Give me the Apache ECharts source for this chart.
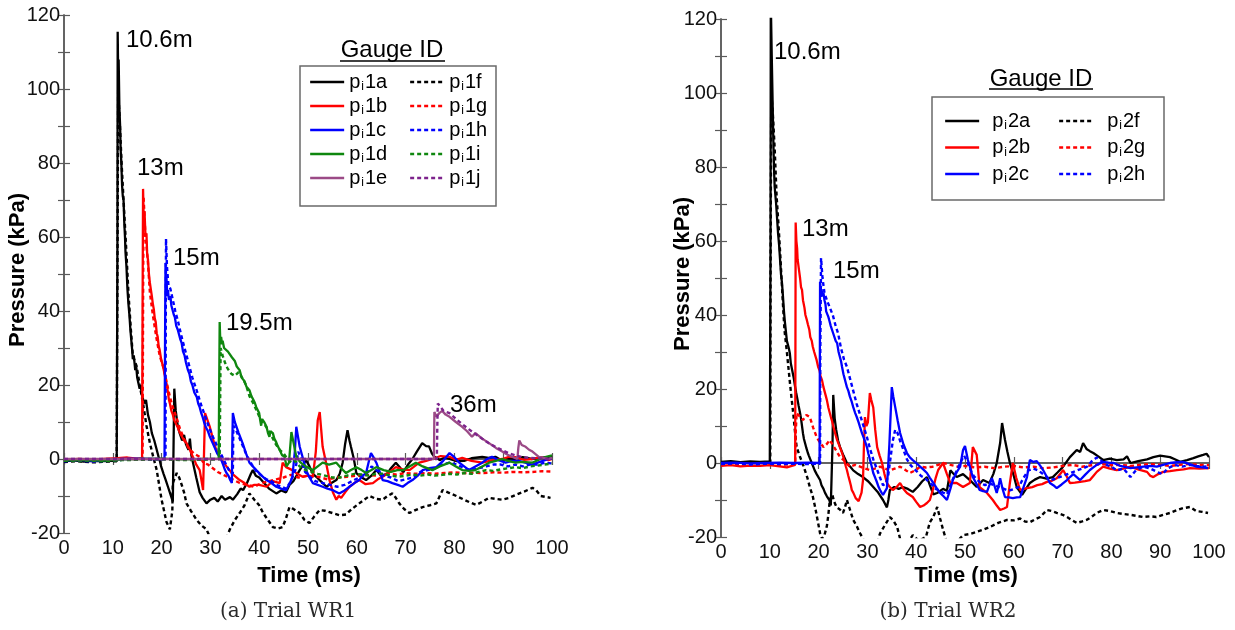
<!DOCTYPE html>
<html>
<head>
<meta charset="utf-8">
<script src="https://cdn.jsdelivr.net/npm/echarts@6/dist/echarts.min.js"></script>
<style>
  html, body { margin: 0; padding: 0; background: #fff; }
  #chart { width: 1235px; height: 630px; }
</style>
</head>
<body>
<div id="chart"></div>
<script>
// Axis ticks (ms and kPa)
const timeTicks = { min: 0, max: 100, step: 10 };
const pressTicks = { min: -20, max: 120, step: 10, labelStep: 20 };

// Trial WR1 gauges: [time ms, pressure kPa]
const p_i1a = [[0,-0.6],[2,-0.4],[4,-0.7],[6,-0.5],[8,-0.6],[10,-0.5],[10.8,-0.4],[10.95,60],[11.0,115.5],[11.1,104],[11.2,108],[11.35,95],[11.5,90],[11.6,84],[11.75,80],[11.9,74],[12.05,71],[12.2,70],[12.35,64],[12.5,60],[12.6,56],[12.8,52],[13.0,46],[13.2,42],[13.4,39],[13.6,35],[13.8,32],[14.0,29],[14.1,27],[14.3,28],[14.6,24],[14.8,25],[15.0,22],[15.2,21.5],[15.5,19],[15.7,20],[16.0,17],[16.2,17.5],[16.5,15],[16.8,16],[17.0,14],[17.2,12],[17.4,11],[17.6,10],[17.8,9.5],[18.0,7],[18.2,7.5],[18.5,5],[18.7,4.5],[19.0,2.5],[19.2,1.5],[19.4,0.5],[19.6,-0.3],[19.9,-2],[20.1,-2.5],[20.4,-4],[20.6,-4.5],[20.8,-5.5],[21.0,-6],[21.3,-7.5],[21.5,-8],[21.8,-9.5],[22.0,-10],[22.3,-11.5],[22.5,-12],[22.6,19],[22.9,13],[23.3,9],[23.7,7],[24.2,5],[24.6,6.5],[25.0,4],[25.5,2.5],[25.8,5.5],[26.1,1],[26.6,-2],[27.1,-5],[27.8,-9],[28.4,-10.5],[29.2,-12],[30.0,-11],[30.8,-10.5],[31.5,-11.5],[32.3,-10],[33.0,-11],[34.0,-10.3],[34.6,-11],[35.5,-9.5],[36.2,-8],[36.7,-8.4],[37.5,-6.5],[38.3,-4],[38.7,-3],[39.3,-4.5],[40.0,-5],[41,-6.5],[42,-8],[43.5,-9.3],[44.5,-8.5],[45.5,-9],[46.2,-7],[47,-6],[48.3,-3],[49.6,-0.3],[50.3,-2],[51,-4],[51.7,-4.8],[52.6,-6],[53.8,-7.5],[54.8,-6.5],[55.8,-5.7],[56.5,-4],[57.1,-1],[57.6,4],[58.1,7.8],[58.5,5],[58.8,3.3],[59.4,0],[59.9,-3.8],[61,-5],[61.9,-5.7],[63,-4.5],[64,-3],[65,-4.5],[66.2,-4],[67,-2.5],[68,-1],[68.8,-2.2],[69.5,-3.6],[70.5,-1.5],[71.4,0],[72.3,2],[73.4,4.3],[74.2,3.5],[74.8,3.4],[75.4,1.5],[75.9,0.6],[77,-0.3],[78,0.4],[79,0],[80.5,-0.6],[82,-0.5],[83.5,0.2],[85.7,0.6],[87,0.3],[88.4,0.6],[89.8,-0.5],[91,0.2],[92.5,0],[94,0.5],[95.9,0],[97.5,0.3],[99.3,0.6],[100,0.8]];
const p_i1f = [[0,-0.8],[3,-0.6],[6,-0.9],[9,-0.7],[10.8,-0.6],[10.95,50],[11.1,100],[11.4,92],[11.8,80],[12.2,70],[12.7,58],[13.2,45],[13.7,35],[14.1,28],[14.9,25],[15.5,20],[16.2,15],[16.9,9],[17.6,4.3],[18.3,0.5],[19,-3],[19.5,-7],[20,-11],[20.5,-14],[21,-17],[21.7,-19],[22.0,-16],[22.2,-14],[22.3,-6.5],[23.1,-3.8],[23.6,-5],[24,-6.5],[24.6,-9],[25.1,-12],[26,-14],[27.2,-16.5],[28.2,-18],[29.2,-19],[30,-21.5],[31.5,-23],[33,-22],[34,-19],[35,-16.5],[36,-14.6],[37,-12.5],[38,-9.3],[39,-11],[40,-12.5],[40.8,-14.6],[41.8,-16.5],[42.8,-18.4],[43.8,-18.8],[44.8,-18.4],[45.5,-16],[46.2,-13],[47,-13.5],[48.3,-14.6],[49.3,-16.5],[50.3,-17.3],[51.3,-15.5],[52.4,-13.8],[53.5,-14],[55,-14.6],[56.5,-15.2],[57.8,-15],[59,-13.5],[60.5,-12],[61.5,-11],[62.6,-10],[64,-10.8],[65.3,-11],[66.3,-10],[67.3,-9.3],[68,-10.5],[68.7,-12],[69.7,-13.5],[70.8,-14.6],[72,-13.8],[73.5,-13],[75,-12.5],[76.3,-12],[77,-10],[77.6,-8.4],[79,-9.2],[80.4,-10],[82,-11],[83.3,-11.8],[84.5,-12.4],[85.8,-11.5],[87.1,-10.5],[88.5,-10.8],[89.8,-11],[91.2,-10.5],[92.6,-9.7],[94.3,-8.8],[96,-7.8],[96.8,-8.5],[97.7,-10],[99.7,-10.5]];
const p_i1b = [[0,-0.3],[3,0],[6,-0.2],[9,0.1],[11,0.2],[13,0.4],[15,0.1],[16.0,0.2],[16.1,40],[16.2,73],[16.35,64],[16.5,67],[16.7,60],[16.9,61],[17.05,55],[17.2,54],[17.4,50],[17.6,47.6],[17.8,48],[18.0,44],[18.2,42],[18.4,40.5],[18.6,38],[18.8,37],[19.0,34],[19.2,33],[19.4,30.5],[19.6,29.5],[19.9,27],[20.1,27.5],[20.3,25],[20.6,23],[20.8,21.5],[21.0,20.5],[21.3,18],[21.5,16],[21.7,15],[22.0,13],[22.3,12],[22.6,10.5],[22.9,10],[23.3,8.6],[23.6,7.5],[24.0,7],[24.2,6],[24.6,5],[25.1,4.3],[25.4,3.5],[25.8,2.5],[26.1,1.5],[26.4,0.6],[26.8,-0.5],[27.1,-1.5],[27.5,-2],[27.8,-3],[28.0,-4.5],[28.2,-6],[28.5,-8.4],[28.7,2],[28.9,12.4],[29.4,10.5],[29.9,8.6],[30.5,5.5],[31.2,2.4],[32.2,0],[33.3,-2],[34.5,-4],[36,-5.7],[37,-6.5],[38,-7.5],[39,-7],[40,-7],[41.5,-7.5],[42.8,-6],[44.2,-6.5],[44.8,-1],[45.5,-2.2],[46.8,-3],[47.8,-4],[48.9,-4.8],[50,-4.5],[51,-4.8],[51.6,2],[52,10.5],[52.4,12.7],[52.7,8],[53,3.3],[53.7,-1],[54.4,-5.7],[55.1,-9],[55.8,-11],[56.3,-10],[56.8,-10.5],[57.6,-9],[58.5,-7.5],[59.5,-6.5],[60.5,-5.7],[61.8,-6.8],[63.3,-6.5],[64.3,-5.5],[65.3,-4.8],[66.7,-3.5],[68,-2.2],[69.4,-2.8],[70.8,-3],[71.8,-2],[72.8,-1],[74.2,-0.5],[75.5,0],[77.2,0.8],[79,0.6],[80.3,-0.2],[81.6,0.3],[83.5,-0.5],[85.7,-1],[87.7,-0.4],[89.8,0],[91.2,0.6],[92.5,0.5],[94.2,-0.2],[95.9,0],[97.6,0.5],[99.3,-0.3],[100,0]];
const p_i1g = [[0,-0.5],[3,-0.3],[6,-0.6],[9,-0.4],[12,0],[15,-0.2],[16.1,0],[16.2,40],[16.3,71],[16.7,60],[17.1,55],[17.6,45],[18.2,39],[18.9,33],[19.6,28],[20.3,25],[21,21],[21.7,16.8],[22.3,14],[23,11.4],[23.8,8],[24.6,5.5],[25.5,3],[26.6,1.5],[27.8,0.6],[28.6,-1],[29.5,-1.5],[30.5,-2.5],[31.5,-3.5],[33,-4.5],[34.5,-5.5],[36,-6.5],[37.5,-7],[39,-7.5],[40.5,-6.5],[42,-6],[43.5,-5.5],[45,-5],[46.5,-4.3],[48,-5],[50,-4.5],[52,-4.8],[54,-5.5],[56,-5],[58,-4.8],[60,-4.5],[62,-4.3],[64,-4.5],[66,-4],[68,-4.2],[70,-3.8],[72,-4],[74,-3.8],[76,-4],[78,-3.8],[80,-3.6],[82,-3.8],[84,-3.7],[86,-3.8],[88,-3.6],[90,-3.7],[92,-3.5],[94,-3.6],[96,-3.5],[98,-3.3],[100,-3.4]];
const p_i1c = [[0,-0.4],[3,-0.2],[6,-0.5],[9,-0.3],[12,0],[15,0.1],[18,0],[20.6,0],[20.7,30],[20.8,53],[20.9,47],[21.0,49],[21.15,44],[21.3,45.7],[21.5,43],[21.8,44],[22.0,41.5],[22.3,41],[22.5,39],[22.7,38.4],[23.0,36],[23.3,35],[23.6,33.5],[23.8,32.5],[24.1,31.4],[24.4,29],[24.7,28],[25.0,26],[25.4,24],[25.7,23],[26.0,21],[26.3,20],[26.7,18],[27.0,17.5],[27.2,16.8],[27.5,15],[27.8,14],[28.1,12.5],[28.4,11.4],[28.7,10],[29.1,8.5],[29.5,7.5],[29.9,6],[30.4,4.5],[30.9,3],[31.4,1.5],[31.9,0.6],[32.3,-0.5],[32.6,-1.5],[33.0,-3],[33.3,-3.8],[33.7,-4.5],[34,-5.5],[34.4,-6.5],[34.5,5],[34.6,12.4],[35,10],[35.8,7],[36.6,4.3],[37.3,1.5],[38,-1],[39.4,-3],[40.5,-4.5],[41.5,-5.7],[42.5,-6.5],[43.5,-7.5],[44.5,-8],[45.5,-8.4],[46.3,-6.5],[46.8,-4.8],[47.3,2],[47.6,8.7],[48.3,3.3],[49,0],[49.6,-3],[50.3,-5],[51,-6.5],[52,-7],[53,-7.5],[54,-8],[55.2,-8.5],[56.4,-9.3],[57.5,-8.5],[58.5,-7.5],[59.5,-6.5],[60.5,-5.7],[61.2,-4.5],[61.9,-3.8],[62.4,-1],[62.9,1.6],[63.4,0.5],[64,-1],[64.7,-3.5],[65.3,-5.7],[66.3,-6],[67.3,-6.5],[68.4,-7],[69.4,-7.5],[70.4,-6.5],[71.4,-5.7],[72.5,-4.5],[73.5,-3],[74.8,-2.5],[76.3,-2.2],[77.7,-0.5],[79,1.6],[80,0.5],[81,-1],[82,-2],[83,-3],[84.3,-2],[85.7,-1],[86.7,0],[87.7,0.6],[89,-0.3],[90.5,-1],[91.8,-0.5],[93.2,-0.5],[94.5,-1],[95.9,-1.5],[97.5,-0.8],[99.3,0],[100,0.2]];
const p_i1h = [[0,-0.6],[3,-0.4],[6,-0.7],[9,-0.5],[12,-0.2],[15,-0.1],[18,-0.2],[20.8,0],[20.85,35],[20.9,59.5],[21.1,52],[21.4,47],[21.8,46],[22.3,43],[22.8,40],[23.4,37],[24.1,33],[24.8,29.5],[25.5,26],[26.3,22],[27.2,18.5],[28,15],[28.8,12],[29.6,9],[30.5,6],[31.4,3.5],[32.3,1],[33.2,-1.5],[34,-3.5],[34.6,-4],[34.7,9],[35.2,8],[36,5.5],[36.8,3],[37.6,0.5],[38.5,-1.5],[39.5,-3.5],[40.5,-4.5],[41.5,-5.5],[42.5,-6],[43.5,-7],[44.5,-7.5],[45.5,-8],[46.5,-6],[47.4,-3],[48,2],[48.6,0],[49.4,-3.5],[50.5,-5],[51.5,-6],[53,-6.5],[54.5,-7],[56,-7.5],[57.5,-7],[59,-6],[60.5,-5],[62,-4],[63,-2],[64,-3],[65.5,-4.5],[67,-5],[68.5,-6],[70,-5.5],[71.5,-5],[73,-3.5],[74.5,-3],[76,-2.5],[77.5,-1.5],[79,-1],[80.5,-1.5],[82,-2.5],[83.5,-3],[85,-2.5],[86.5,-2],[88,-1.5],[89.5,-1.5],[91,-2],[92.5,-1.5],[94,-2],[95.5,-1.5],[97,-1.5],[98.5,-1],[100,-1.2]];
const p_i1d = [[0,-0.3],[4,-0.2],[8,-0.4],[12,-0.1],[16,0],[20,0.1],[24,-0.1],[28,0],[31.7,0.1],[31.8,20],[31.9,37],[32.05,31],[32.2,33],[32.4,31],[32.5,32],[32.8,30],[33.2,30.5],[33.6,29],[34,29.5],[34.4,27.5],[34.7,27],[35,26.5],[35.4,25],[35.7,25.5],[36,24],[36.4,22],[36.7,22.5],[37,21],[37.4,19.5],[37.7,19.8],[38,18.6],[38.4,17],[38.8,16],[39.1,15.2],[39.4,14],[39.7,13.5],[40,12.4],[40.2,10.5],[40.4,9],[40.6,10.8],[40.8,10.5],[41.1,9.8],[41.5,8.7],[41.8,7],[42.1,6],[42.3,7.5],[42.5,8],[42.8,7],[43.1,5.5],[43.5,4.5],[43.8,3.5],[44.2,2.4],[44.7,1],[45.2,0.6],[45.6,-2],[46.1,-1],[46.6,7.3],[47.1,4],[47.6,0.6],[48.5,-1],[49.5,-2],[51,-3],[52,-2],[53,-1],[54.3,-1.5],[55.8,-1],[56.8,-2.5],[57.8,-3.8],[58.8,-3],[59.9,-2.2],[61,-3],[61.9,-3.8],[63,-3],[64,-2.2],[65.5,-3],[67,-3.5],[68.3,-3],[69.5,-3],[70.8,-2],[72.1,-1],[73.5,-2],[75.5,-3],[77,-2],[79,-1],[80.3,-2],[81.6,-3],[83,-3.2],[84.3,-3],[85.7,-2],[87.1,-1],[88.5,-0.5],[89.8,0],[91,-0.5],[92.5,-1],[94,-0.8],[95.9,-1],[97.3,-0.2],[98.8,0.6],[100,1]];
const p_i1i = [[0,-0.5],[4,-0.4],[8,-0.6],[12,-0.3],[16,-0.2],[20,-0.1],[24,-0.3],[28,-0.2],[31.9,-0.1],[32.0,15],[32.1,30],[32.5,28],[33,26],[33.5,24.5],[34.3,23],[35,22.5],[35.8,23.5],[36.5,22],[37.3,20],[38,17],[38.8,15],[39.5,13],[40.2,11],[41,9.5],[41.8,8],[42.6,6],[43.4,4],[44.2,2.5],[45,1.5],[45.8,0],[46.6,-1],[47.4,-0.5],[48.3,-2],[49.5,-3],[50.8,-3.5],[52,-4],[53.5,-4.5],[55,-5],[56.5,-5],[58,-4.5],[59.5,-4],[61,-4.2],[62.5,-4.5],[64,-4],[65.5,-4],[67,-4.5],[68.5,-4.8],[70,-4.5],[71.5,-4.2],[73,-4.5],[74.5,-4.2],[76,-4.5],[77.5,-4.3],[79,-4],[80.5,-4.2],[82,-3.8],[83.5,-4],[85,-3.5],[86.5,-3],[88,-3.2],[89.5,-2.8],[91,-2.5],[92.5,-2.2],[94,-2.5],[95.5,-2],[97,-1.8],[98.5,-1.5],[100,-1.2]];
const p_i1e = [[0,0],[20,0],[40,0],[60,0],[75.8,0],[75.9,12.7],[76.3,11.5],[76.9,12.4],[77.5,13],[78.2,12],[79,11.4],[80.3,10],[81.6,8.7],[82.6,7.5],[83.6,6],[84.3,7],[85.7,5.5],[87.1,4.3],[88.5,3],[89.8,2],[90.8,1.2],[91.8,0.6],[92.9,0],[93.1,3],[93.3,5],[93.8,3.8],[94.6,3.3],[95.3,2.5],[96,2],[97.3,0.6],[98.3,0.3],[99.3,0],[100,0.3]];
const p_i1j = [[0,0],[20,0],[40,0],[60,0],[76.4,0],[76.5,9],[76.6,15],[77.2,14],[77.8,13],[79,12.4],[80.6,10.5],[82.3,8.7],[84,7],[85.7,5.5],[87,4.3],[88.4,3.3],[89.8,2.4],[91.1,1.6],[92.5,1],[93.9,0.5],[95.5,0.3],[97,0.2],[99.3,0],[100,0]];

// Trial WR2 gauges
const p_i2a = [[0,0.3],[2,0.5],[4,0.2],[6,0.4],[8,0.3],[10,0.4],[10.1,0.3],[10.15,60],[10.2,125],[10.4,110],[10.7,89],[10.85,80],[11,74.6],[11.15,75],[11.3,70],[11.5,66],[11.7,62],[11.9,59],[12.1,55],[12.3,51],[12.5,48.6],[12.7,45],[12.9,41],[13.1,38],[13.3,35.5],[13.5,33],[13.7,32],[13.9,31],[14.1,29.7],[14.3,27],[14.6,25],[14.9,23],[15.2,20.5],[15.4,19],[15.7,17],[15.9,15.5],[16.2,13.5],[16.4,12],[16.5,11],[16.7,9],[16.8,8],[17.0,6.5],[17.3,5],[17.5,4],[17.8,2.7],[18.0,2],[18.3,1],[18.6,0],[18.9,-1],[19.2,-2],[19.6,-3],[19.9,-3.5],[20.3,-4.6],[20.6,-6],[21,-7],[21.3,-8],[21.7,-9],[22.0,-9.5],[22.2,-10],[22.5,-11.5],[22.7,-11],[22.85,5],[23,18.4],[23.3,12],[23.6,9],[24,6],[24.4,4.3],[25.1,2],[25.8,0],[26.5,-1],[27.1,-2],[28.1,-3],[29.1,-3.8],[30.2,-5],[31.2,-6.5],[32.2,-8],[33.2,-10],[34,-12],[34.3,-10],[34.6,-7.3],[35.5,-6.5],[36.4,-7],[37.3,-6.5],[38.3,-7],[39.3,-7.8],[40.3,-6.5],[41.2,-5],[42.2,-3.8],[42.8,-6],[43.5,-8.5],[44.3,-8.1],[45.5,-7],[46.3,-7.5],[47,-2],[47.5,-2.7],[48.3,-3.8],[49.6,-3],[51,-4.6],[52.4,-6.5],[53.7,-4.6],[55,-5.4],[55.8,-3],[56.5,0],[57.2,5.4],[57.6,10.8],[58.2,6.2],[58.7,3],[59.2,0],[60,-3.5],[60.6,-6.5],[61.7,-8.6],[62.5,-7],[63.3,-5.4],[64.3,-4.5],[65.4,-3.8],[66.7,-4.2],[68,-3.8],[69,-2.5],[70.1,-1],[71.5,1.6],[72.9,3.5],[73.6,3],[74.2,5.4],[74.9,3.8],[75.6,3.2],[76.3,2.7],[77.3,1.8],[78.3,0.8],[79.7,1.2],[81.1,0.8],[82.5,1],[83.2,1.8],[83.9,0],[85.5,0.5],[87.3,1],[88.6,1.6],[90,2],[91,1.8],[92,1.6],[93,1],[94.1,0.3],[95.5,0.8],[96.8,1.3],[97.8,1.8],[98.8,2.2],[99.5,2.5],[100,1.6]];
const p_i2f = [[0,0],[2,0.2],[4,-0.1],[6,0.1],[8,0],[10.1,0],[10.15,50],[10.3,100],[10.6,95],[11,85],[11.4,72],[11.8,64],[12.2,55],[12.6,45],[13,36],[13.5,30],[14.1,22],[14.5,17],[14.8,13.5],[15.2,8],[15.5,4.3],[16.2,1.6],[16.7,0],[17.2,-2],[17.7,-4],[18.2,-6.5],[18.8,-9],[19.3,-12],[19.9,-16.2],[20.3,-19],[20.7,-20.5],[21.2,-19.5],[21.7,-17],[22,-14],[22.3,-10],[22.8,-8.5],[23.2,-10.5],[23.7,-12],[24.3,-12.5],[25,-13.5],[25.4,-12],[25.8,-10],[26.4,-12.5],[27.1,-15.4],[27.8,-17],[28.5,-19],[29.5,-21.5],[31,-23],[32,-21.5],[32.6,-19],[33.5,-17],[34.6,-14.6],[35.3,-15.5],[36.1,-17.3],[36.8,-21],[38,-22],[39.3,-19.5],[40.5,-21],[42,-20],[42.8,-16],[43.5,-14.6],[44.3,-11.9],[44.9,-15],[45.5,-18],[46.3,-21.5],[47.5,-22.5],[49.6,-19.5],[51,-19.2],[52.4,-18.6],[53.8,-18],[55.1,-17.3],[56.8,-16.2],[58.6,-15.4],[60,-15.5],[61.3,-15],[62.3,-15.8],[63.3,-16],[64.4,-15.2],[65.4,-14.6],[66.8,-12.7],[67.8,-13],[68.8,-13.5],[70,-14],[70.9,-14.6],[72,-15.5],[72.9,-16.2],[74,-15.8],[74.9,-15.4],[76,-14.5],[77,-13.5],[78.3,-12.7],[79.7,-13],[81.1,-13.5],[82.5,-13.8],[83.9,-14],[85.2,-14.3],[86.5,-14.6],[87.9,-14.4],[89.2,-14.6],[90.6,-14],[92,-13.5],[93.3,-12.8],[94.7,-12.2],[96.1,-11.9],[97.4,-13],[98.6,-13.2],[99.8,-13.5]];
const p_i2b = [[0,-0.8],[2,-0.6],[4,-0.9],[6,-0.7],[8,-0.8],[10,-0.6],[12,-0.9],[13.5,-1.2],[14.5,-0.8],[15.2,-0.5],[15.25,30],[15.3,65],[15.45,60],[15.6,58],[15.7,55],[15.8,54],[16.0,52],[16.2,50],[16.4,47.5],[16.6,46.8],[16.8,44],[17.1,42],[17.3,40],[17.6,38.6],[17.8,37.5],[18.1,36],[18.3,34],[18.6,33],[18.8,31.5],[19.1,30],[19.3,29.5],[19.6,27.8],[19.9,26],[20.2,25],[20.4,23.5],[20.7,22.4],[21.0,20.5],[21.2,19.5],[21.5,18],[21.7,17],[22.0,15],[22.2,14],[22.5,12.5],[22.7,11.6],[23.0,10],[23.2,9],[23.5,7.5],[23.8,6.2],[24.0,5.5],[24.3,4.5],[24.6,3.5],[24.8,2.7],[25.1,1.5],[25.3,0.5],[25.6,-1],[25.8,-1.9],[26.1,-3.5],[26.3,-4.5],[26.6,-6],[26.8,-7.3],[27.1,-8],[27.3,-8.5],[27.6,-9.5],[27.8,-10],[28.2,-10.3],[28.5,-10.8],[28.8,-8],[29.1,-4.6],[29.3,5],[29.5,12.4],[29.8,10],[30.1,11],[30.3,15],[30.5,18.9],[30.8,17],[31.2,15],[31.6,9],[32,4.3],[32.5,2],[33,0],[33.5,-3],[34,-5.4],[34.6,-6.5],[35.2,-7.3],[36,-6.5],[36.7,-5.4],[37.4,-7],[38.1,-8.1],[39.3,-9.2],[40,-10.5],[40.8,-11.9],[41.5,-11.5],[42.2,-10.8],[42.8,-10],[43.4,-7.3],[44,-4],[44.5,-1.9],[45.5,0],[46.3,-3],[47,-5.4],[48.3,-5.4],[49.6,-6.5],[51,-5.4],[51.6,4.3],[52.4,2.2],[53,-6.5],[54.5,-8.1],[55.7,-10],[56.5,-11.5],[57.2,-12.7],[58,-12.3],[58.6,-11.9],[59.2,-5.4],[59.8,0],[60.5,-4],[61.3,-7.3],[62.7,-6.8],[63.8,-6.5],[64.8,-6],[65.8,-5.7],[66.8,-5.1],[67.8,-4.8],[68.8,-4.1],[69.5,-3],[70.1,-1.9],[70.8,-3.5],[71.5,-5.4],[72.5,-5.3],[73.6,-5.1],[74.6,-4.9],[75.6,-4.6],[76.3,-3.5],[77,-2.4],[78.3,-1],[79.7,-1.5],[81.1,-1.9],[82.5,-1.5],[83.9,-1],[85.6,-1.8],[87.3,-2.4],[88,-3.5],[88.6,-3.8],[89.6,-3],[90.6,-2.4],[92,-2.2],[93.4,-1.9],[94.8,-1.7],[96.1,-1.4],[98,-1.5],[100,-1.4]];
const p_i2g = [[0,-0.5],[3,-0.3],[6,-0.6],[9,-0.4],[12,-0.5],[15.2,-0.3],[15.3,8],[15.5,13.5],[16.2,12.5],[16.8,11.6],[17.5,13],[18.2,12.4],[18.9,9.5],[19.6,7],[20.3,5.5],[21,4.3],[21.6,5],[22.3,6.2],[23.3,4],[24.4,1.6],[25.4,0.5],[26.4,-1],[27.5,-0.5],[28.5,-1],[29.5,-1.5],[30.5,-1.9],[31.5,-1.5],[32.6,-1],[33.6,-1.5],[34.6,-2],[35.6,-1.5],[36.7,-1],[37.7,-1.8],[38.7,-2.7],[39.8,-2],[40.8,-1],[42,-1.2],[43.4,-1],[44.5,-0.5],[45.5,0],[47,-0.5],[48.5,-1],[50,-0.8],[52,-1.2],[54,-1],[56,-1.4],[58,-1],[60,-0.8],[62,-1.2],[64,-1],[66,-1.4],[68,-1.2],[70,-0.8],[72,-0.5],[74,-1],[76,-0.6],[78,-0.3],[80,-0.6],[82,-0.5],[84,-0.8],[86,-0.5],[88,-0.3],[90,-0.5],[92,-0.8],[94,-0.5],[96,-0.3],[98,-0.5],[100,-0.6]];
const p_i2c = [[0,0],[3,0.1],[6,-0.1],[9,0],[12,0.1],[15,0],[18,0.1],[20.2,0],[20.25,25],[20.3,49],[20.45,46],[20.6,47],[20.8,45],[21,46],[21.2,44],[21.4,43],[21.55,41],[21.7,40.5],[22.0,39.5],[22.2,38.5],[22.5,37],[22.7,36.8],[23.0,35],[23.2,34.5],[23.5,33],[23.8,32.4],[24.1,30],[24.3,29],[24.6,27.5],[24.8,26],[25.1,24],[25.3,23],[25.6,21.5],[25.8,20.5],[26.1,19.5],[26.4,18],[26.8,16.5],[27.1,15.1],[27.5,13.5],[27.8,12.5],[28.2,11],[28.5,9.7],[28.9,8],[29.2,7],[29.6,5.5],[29.9,4.3],[30.2,2.5],[30.5,1],[30.9,-1],[31.2,-2.7],[31.6,-4],[31.9,-5],[32.3,-6.5],[32.6,-7.3],[32.9,-8],[33.2,-8.6],[34,-6.8],[34.5,5],[35,20.5],[35.3,18],[35.7,15.1],[36.2,11.5],[36.7,8.1],[37.4,5],[38.1,2.7],[38.7,1.5],[39.3,0.8],[40,0],[40.8,-1],[41.5,-1.8],[42.2,-2.7],[42.8,-4],[43.5,-5.4],[44.2,-6.8],[44.9,-8.1],[45.6,-9],[46.3,-10],[47,-7],[47.5,-4.6],[48.3,-2.5],[49,-1],[49.6,3.5],[50,4.6],[50.6,0.8],[51.1,-1.5],[51.6,-3.8],[52.3,-5.5],[53,-7.3],[53.7,-7.6],[54.5,-7.8],[55,-6],[55.5,-4.1],[56,-6],[56.5,-8.1],[56.9,-6],[57.2,-4.1],[57.7,-7],[58.2,-9.2],[59,-9.3],[59.8,-9.5],[60.6,-9.3],[61.3,-9.2],[62,-6.5],[62.7,-3.8],[63.3,0.8],[64,0.3],[64.7,0.5],[65.4,-0.7],[66,-1.9],[66.7,-3.6],[67.4,-5.4],[68.1,-6],[68.8,-6.8],[69.8,-5.8],[70.9,-4.6],[71.5,-3.8],[72.2,-3],[72.9,-3.8],[73.6,-4.6],[74.6,-3.2],[75.6,-1.9],[76.3,-1.2],[77,-0.5],[78.3,0.3],[79.4,0.1],[80.5,0],[81.8,-0.8],[83.9,-1.4],[85.2,-1.2],[86.6,-1],[88,-0.8],[89.3,-1],[90.6,-0.5],[92,0],[93.4,0.2],[94.7,0.3],[96,-0.3],[97.4,-1],[98.6,-1.2],[99.8,-1.4]];
const p_i2h = [[0,-0.3],[3,-0.1],[6,-0.4],[9,-0.2],[12,-0.3],[15,-0.2],[18,-0.3],[20.3,-0.2],[20.35,30],[20.5,55.4],[20.8,50],[21.2,46],[21.7,44],[22.3,42],[22.9,40],[23.5,37],[24,35],[24.6,31],[25.2,28],[25.8,26],[26.4,23],[27.1,19.5],[27.8,16],[28.5,13],[29.2,10],[29.9,7],[30.5,4],[31.2,1],[31.9,-1.5],[32.6,-4],[33.2,-6],[33.8,-5.5],[34.3,-3],[34.8,2],[35.2,6],[35.7,9],[36.2,8],[36.7,6],[37.4,3.5],[38.1,1],[38.8,-0.5],[39.5,-1.5],[40.3,-2.5],[41,-3.5],[41.7,-4],[42.5,-5],[43.3,-6],[44,-7],[44.8,-7.5],[45.5,-8],[46.3,-8.5],[47,-6],[47.8,-3.5],[48.5,-1.5],[49.2,0.5],[49.8,2],[50.4,0.5],[51,-1.5],[51.8,-3.5],[52.5,-4.5],[53.3,-5.5],[54.1,-6],[55,-5.5],[56,-6],[57,-6.5],[58,-7],[59,-7.5],[60,-7],[61,-6.5],[62,-4],[63,-2],[64,-1.5],[65,-2],[66,-3],[67,-4],[68,-4.5],[69,-4],[70,-3.5],[71,-3],[72,-2.5],[73,-2],[74,-1.5],[75,-1],[76,0.5],[77,1.5],[78,0.5],[79,-0.5],[80,-1],[81.1,-2],[82.5,-1.5],[83.9,-3.8],[85,-2],[86.5,-1],[88,-1.5],[89.5,-2.5],[90.5,-3],[91.5,-1.5],[93,-0.5],[94.5,-1],[96,-0.5],[97.5,-0.8],[99,-1],[100,-0.8]];

// Gauge names, colours and line types per trial
const wr1Solid = [['p_i1a', p_i1a, '#000000'], ['p_i1b', p_i1b, '#ff0000'], ['p_i1c', p_i1c, '#0000ff'], ['p_i1d', p_i1d, '#0f870f'], ['p_i1e', p_i1e, '#9b4a86']];
const wr1Dash  = [['p_i1f', p_i1f, '#000000'], ['p_i1g', p_i1g, '#ff0000'], ['p_i1h', p_i1h, '#0000ff'], ['p_i1i', p_i1i, '#0f870f'], ['p_i1j', p_i1j, '#7d238c']];
const wr2Solid = [['p_i2a', p_i2a, '#000000'], ['p_i2b', p_i2b, '#ff0000'], ['p_i2c', p_i2c, '#0000ff']];
const wr2Dash  = [['p_i2f', p_i2f, '#000000'], ['p_i2g', p_i2g, '#ff0000'], ['p_i2h', p_i2h, '#0000ff']];

const SANS = '"Liberation Sans", Arial, sans-serif';
const FRAME = '#5a5a5a';

function makeSeries(entry, dashed, axisIdx) {
  return {
    type: 'line', name: entry[0], data: entry[1],
    xAxisIndex: axisIdx, yAxisIndex: axisIdx,
    symbol: 'none', clip: true, animation: false,
    lineStyle: { color: entry[2], width: dashed ? 2.4 : 2.3, type: dashed ? [4, 3] : 'solid' },
    itemStyle: { color: entry[2] }
  };
}

// interleave solid / dashed so each gauge pair is drawn together
function pairSeries(solid, dash, axisIdx) {
  const out = [];
  for (let k = 0; k < solid.length; k++) {
    out.push(makeSeries(solid[k], false, axisIdx));
    out.push(makeSeries(dash[k], true, axisIdx));
  }
  return out;
}

function legendName(n) {
  // p_i1a -> p with subscript i, then gauge code
  return '{p|p}{s|i}{p|' + n.slice(3) + '}';
}

function legendBlock(names, left, top, gap, textPad) {
  return {
    data: names, orient: 'vertical', left: left, top: top, padding: 0,
    itemGap: gap, itemWidth: 34, itemHeight: 14, selectedMode: false,
    formatter: legendName,
    itemStyle: { opacity: 0 },
    lineStyle: { width: 2.3 },
    textStyle: {
      color: '#000',
      rich: {
        p: { fontFamily: SANS, fontSize: 20, lineHeight: 22, color: '#000' },
        s: { fontFamily: SANS, fontSize: 12, lineHeight: 14, verticalAlign: 'bottom', color: '#000', padding: [0, 1, 0, 1] }
      },
      padding: [0, 0, 0, textPad]
    }
  };
}

function xAxes(grid) {
  const base = {
    type: 'value', gridIndex: grid, min: timeTicks.min, max: timeTicks.max, interval: timeTicks.step,
    splitLine: { show: false },
    axisLine: { show: true, lineStyle: { color: FRAME, width: 1.5 } },
    axisTick: { show: true, inside: true, length: 6, lineStyle: { color: FRAME, width: 1.2 } }
  };
  return [
    Object.assign({}, base, { position: 'bottom',
      axisLabel: { show: true, fontFamily: SANS, fontSize: 20, color: '#111', margin: 5 } }),
    Object.assign({}, base, { position: 'top', axisLabel: { show: false } })
  ];
}

function yAxes(grid) {
  const base = {
    type: 'value', gridIndex: grid, min: pressTicks.min, max: pressTicks.max, interval: pressTicks.step,
    splitLine: { show: false },
    axisLine: { show: true, lineStyle: { color: FRAME, width: 1.5 } },
    axisTick: { show: true, inside: true, length: 6, lineStyle: { color: FRAME, width: 1.2 } }
  };
  return [
    Object.assign({}, base, { position: 'left',
      axisLabel: { show: true, fontFamily: SANS, fontSize: 20, color: '#111', margin: 4,
        formatter: v => (v % pressTicks.labelStep === 0 ? String(v) : '') } }),
    Object.assign({}, base, { position: 'right', axisLabel: { show: false } })
  ];
}

function txt(x, y, s, font, align, rot) {
  return { type: 'text', x: x, y: y, rotation: rot || 0, z: 10,
    style: { text: s, font: font, fill: '#000', align: align || 'left', verticalAlign: 'middle' } };
}

const chart = echarts.init(document.getElementById('chart'), null, { renderer: 'canvas' });

const xa = xAxes(0).concat(xAxes(1));
const ya = yAxes(0).concat(yAxes(1));
// series of grid 1 use axis pair index 2
const seriesWR1 = pairSeries(wr1Solid, wr1Dash, 0);
const seriesWR2 = pairSeries(wr2Solid, wr2Dash, 2);

const bold22 = 'bold 22px ' + SANS;
const ann = '24px ' + SANS;

chart.setOption({
  backgroundColor: '#ffffff',
  animation: false,
  grid: [
    { left: 64, top: 15, width: 488, height: 518 },
    { left: 721, top: 19, width: 488, height: 518 }
  ],
  xAxis: xa,
  yAxis: ya,
  legend: [
    legendBlock(wr1Solid.map(e => e[0]), 309, 72, 3, 0),
    legendBlock(wr1Dash.map(e => e[0]), 409, 72, 3, 0),
    legendBlock(wr2Solid.map(e => e[0]), 944, 111, 5.5, 8),
    legendBlock(wr2Dash.map(e => e[0]), 1058, 111, 5.5, 9)
  ],
  series: seriesWR1.concat(seriesWR2),
  graphic: [
    // axis titles
    txt(18, 270, 'Pressure (kPa)', bold22, 'center', Math.PI / 2),
    txt(309, 576, 'Time (ms)', bold22, 'center'),
    txt(683, 274, 'Pressure (kPa)', bold22, 'center', Math.PI / 2),
    txt(966, 576, 'Time (ms)', bold22, 'center'),
    // panel captions
    { type: 'text', x: 288, y: 612, style: { text: '(a) Trial WR1', font: '20px "DejaVu Serif", serif', fill: '#2a2a2a', align: 'center', verticalAlign: 'middle' } },
    { type: 'text', x: 948, y: 612, style: { text: '(b) Trial WR2', font: '20px "DejaVu Serif", serif', fill: '#2a2a2a', align: 'center', verticalAlign: 'middle' } },
    // stand-off distances
    txt(126, 40, '10.6m', ann), txt(137, 168, '13m', ann), txt(173, 258, '15m', ann),
    txt(226, 323, '19.5m', ann), txt(450, 405, '36m', ann),
    txt(774, 52, '10.6m', ann), txt(802, 229, '13m', ann), txt(833, 271, '15m', ann),
    // legend titles
    txt(392, 50, 'Gauge ID', '24px ' + SANS, 'center'),
    { type: 'line', z: 10, shape: { x1: 340, y1: 61, x2: 445, y2: 61 }, style: { stroke: '#000', lineWidth: 1.5 } },
    txt(1041, 79, 'Gauge ID', '24px ' + SANS, 'center'),
    { type: 'line', z: 10, shape: { x1: 989, y1: 89, x2: 1093, y2: 89 }, style: { stroke: '#000', lineWidth: 1.5 } },
    // legend frames
    { type: 'rect', z: 1, shape: { x: 300, y: 66, width: 196, height: 140 }, style: { fill: 'none', stroke: '#6a6a6a', lineWidth: 1.5 } },
    { type: 'rect', z: 1, shape: { x: 932, y: 97, width: 232, height: 103 }, style: { fill: 'none', stroke: '#6a6a6a', lineWidth: 1.5 } }
  ]
});
</script>
</body>
</html>
